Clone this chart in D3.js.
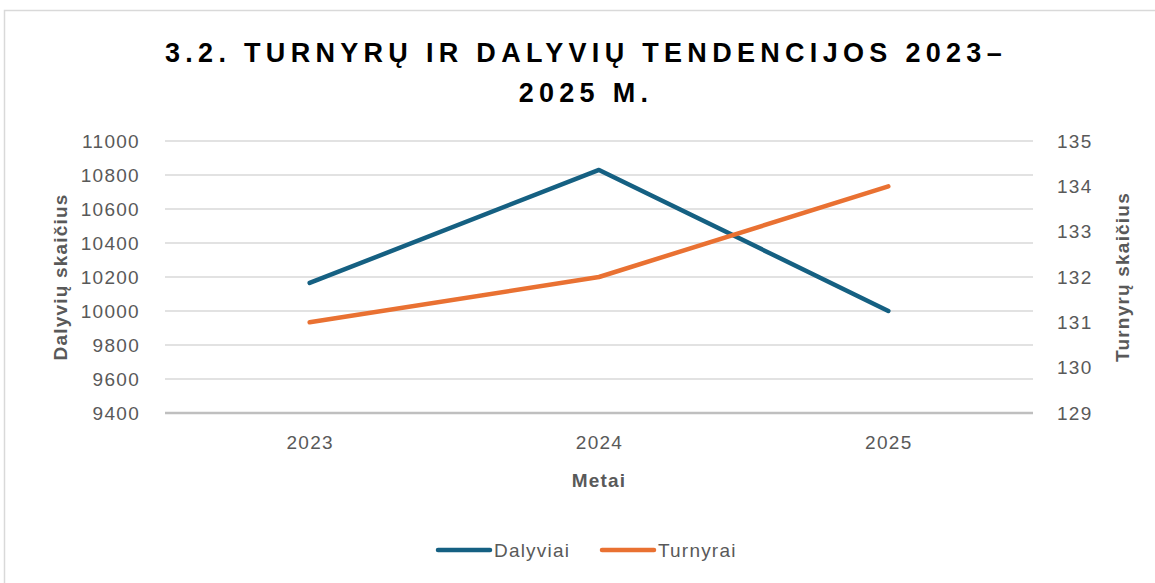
<!DOCTYPE html>
<html>
<head>
<meta charset="utf-8">
<script src="https://cdn.jsdelivr.net/npm/d3@7"></script>
<style>
  body { margin: 0; background: #fff; }
  svg { display: block; font-family: "Liberation Sans", Arial, sans-serif; }
</style>
</head>
<body>
<svg id="chart" width="1155" height="583"></svg>
<script>
const years = ["2023", "2024", "2025"];
const dalyviai = [10165, 10830, 10000];
const turnyrai = [131, 132, 134];
const leftTicks = [9400, 9600, 9800, 10000, 10200, 10400, 10600, 10800, 11000];
const rightTicks = [129, 130, 131, 132, 133, 134, 135];

const svg = d3.select("#chart");
const margin = {top: 141, right: 122, bottom: 170, left: 165};
const width = 1155 - margin.left - margin.right;
const height = 583 - margin.top - margin.bottom;

// outer frame
svg.append("rect")
    .attr("x", 4.5).attr("y", 10.5)
    .attr("width", 1160).attr("height", 600)
    .attr("fill", "none").attr("stroke", "#d9d9d9").attr("stroke-width", 1.5);

const titleLines = [["3.2. TURNYRŲ IR DALYVIŲ TENDENCIJOS 2023–", 62], ["2025 M.", 102]];
titleLines.forEach(([t, y]) => {
    svg.append("text")
        .attr("x", 586).attr("y", y)
        .attr("text-anchor", "middle")
        .style("font-size", "27px").style("font-weight", "bold")
        .style("letter-spacing", "5.3px").attr("fill", "#000")
        .text(t);
});

const g = svg.append("g").attr("transform", `translate(${margin.left},${margin.top})`);

const x = d3.scalePoint().domain(years).range([0, width]).padding(0.5);
const yL = d3.scaleLinear().domain([9400, 11000]).range([height, 0]);
const yR = d3.scaleLinear().domain([129, 135]).range([height, 0]);

// gridlines
g.append("g").selectAll("line")
    .data(leftTicks)
    .join("line")
    .attr("x1", 0).attr("x2", width)
    .attr("y1", d => yL(d)).attr("y2", d => yL(d))
    .attr("stroke", d => d === 9400 ? "#bfbfbf" : "#d9d9d9")
    .attr("stroke-width", d => d === 9400 ? 2.5 : 1.3);

const tickStyle = sel => sel.selectAll("text")
    .style("font-size", "19px").style("letter-spacing", "1.3px").attr("fill", "#595959");

const leftAxis = g.append("g")
    .call(d3.axisLeft(yL).tickValues(leftTicks).tickFormat(d3.format("d")).tickSize(0).tickPadding(25));
leftAxis.select(".domain").remove();
tickStyle(leftAxis);

const rightAxis = g.append("g")
    .attr("transform", `translate(${width},0)`)
    .call(d3.axisRight(yR).tickValues(rightTicks).tickFormat(d3.format("d")).tickSize(0).tickPadding(24));
rightAxis.select(".domain").remove();
tickStyle(rightAxis);

const bottomAxis = g.append("g")
    .attr("transform", `translate(0,${height})`)
    .call(d3.axisBottom(x).tickSize(0).tickPadding(23));
bottomAxis.select(".domain").remove();
tickStyle(bottomAxis);

// axis titles
const titleStyle = sel => sel
    .attr("text-anchor", "middle")
    .style("font-size", "19px").style("font-weight", "bold")
    .style("letter-spacing", "1.2px").attr("fill", "#595959");
svg.append("text")
    .attr("transform", `translate(67,277) rotate(-90)`)
    .call(titleStyle)
    .text("Dalyvių skaičius");
svg.append("text")
    .attr("transform", `translate(1129,277) rotate(-90)`)
    .call(titleStyle)
    .text("Turnyrų skaičius");
svg.append("text")
    .attr("x", margin.left + x("2024")).attr("y", 487)
    .call(titleStyle)
    .text("Metai");

// lines
const blue = "#156082", orange = "#e97132";
g.append("path")
    .datum(dalyviai)
    .attr("fill", "none").attr("stroke", blue).attr("stroke-width", 4.5)
    .attr("stroke-linecap", "round").attr("stroke-linejoin", "round")
    .attr("d", d3.line().x((d, i) => x(years[i])).y(d => yL(d)));
g.append("path")
    .datum(turnyrai)
    .attr("fill", "none").attr("stroke", orange).attr("stroke-width", 4.5)
    .attr("stroke-linecap", "round").attr("stroke-linejoin", "round")
    .attr("d", d3.line().x((d, i) => x(years[i])).y(d => yR(d)));

// legend
const legend = svg.append("g").attr("transform", "translate(0,550)");
const items = [
    {name: "Dalyviai", color: blue, x: 438},
    {name: "Turnyrai", color: orange, x: 602}
];
items.forEach(it => {
    legend.append("line")
        .attr("x1", it.x).attr("x2", it.x + 52)
        .attr("y1", 0).attr("y2", 0)
        .attr("stroke", it.color).attr("stroke-width", 4.5).attr("stroke-linecap", "round");
    legend.append("text")
        .attr("x", it.x + 56).attr("y", 7)
        .style("font-size", "19px").style("letter-spacing", "1.2px").attr("fill", "#595959")
        .text(it.name);
});
</script>
</body>
</html>
